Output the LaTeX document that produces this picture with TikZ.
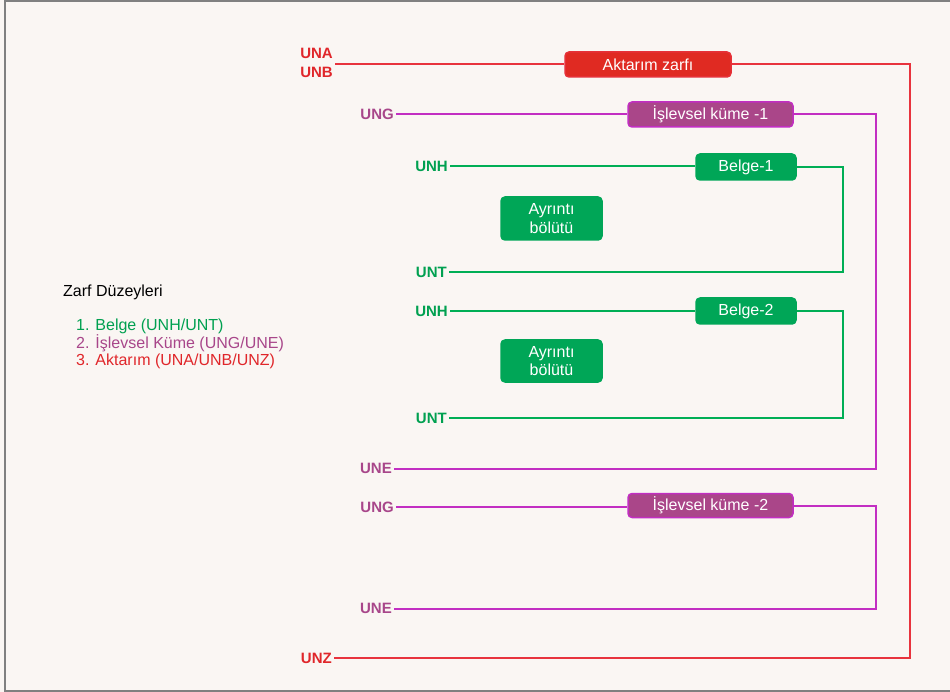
\documentclass[tikz,border=0pt]{standalone}
\usepackage{fontspec}
\setmainfont{Liberation Sans}
\usetikzlibrary{calc}

\definecolor{bg}{HTML}{FAF6F3}
\definecolor{frame}{HTML}{808080}
\definecolor{redline}{HTML}{E8333D}
\definecolor{redfill}{HTML}{E02A22}
\definecolor{redtext}{HTML}{E0262A}
\definecolor{purpline}{HTML}{C22EC2}
\definecolor{purpfill}{HTML}{AA4689}
\definecolor{purptext}{HTML}{A8468A}
\definecolor{greenline}{HTML}{00AE55}
\definecolor{greenfill}{HTML}{00A657}
\definecolor{greentext}{HTML}{00A050}

\tikzset{
  seg/.style={font=\fontsize{15}{19}\selectfont\bfseries, inner xsep=2pt, inner ysep=0pt, anchor=east, align=right},
  boxbase/.style={rounded corners=4pt, text=white, font=\fontsize{16}{18.5}\selectfont, inner sep=0pt, align=center, line width=1.5pt},
  redbox/.style={boxbase, fill=redfill, draw=redline!80!redfill},
  purpbox/.style={boxbase, fill=purpfill, draw=purpline},
  greenbox/.style={boxbase, fill=greenfill, draw=greenfill},
  redwire/.style={draw=redline, line width=2pt},
  purpwire/.style={draw=purpline, line width=2pt},
  greenwire/.style={draw=greenline, line width=2pt},
  legend/.style={font=\fontsize{16}{17.5}\selectfont, anchor=west, inner sep=0pt, align=left}
}

\begin{document}
\begin{tikzpicture}[x=1pt, y=-1pt]
  % canvas and frame
  \fill[bg] (0,0) rectangle (950,692);
  \useasboundingbox (0,0) rectangle (950,692);
  \draw[frame, line width=2pt] (950,1.5) -- (4.5,1.5) -- (4.5,690.5) -- (950,690.5);

  % vertical rails of the three envelope levels
  \coordinate (rrail) at (910,0);
  \coordinate (prail) at (876,0);
  \coordinate (grail) at (843,0);

  % interchange level (red)
  \node[seg, text=redtext] (unab) at (335,63) {UNA\\UNB};
  \node[redbox, minimum width=166pt, minimum height=25pt] (aktarim) at (648,64.5) {Aktarım zarfı};
  \node[seg, text=redtext] (unz) at (334,658) {UNZ};
  \draw[redwire] (unab.east |- aktarim.west) -- (aktarim.west);
  \draw[redwire] (aktarim.east) -- (aktarim.east -| rrail) |- (unz.east);

  % functional group 1 (purple)
  \node[seg, text=purptext] (ung1) at (396,114) {UNG};
  \node[purpbox, minimum width=165pt, minimum height=25pt] (isk1) at (710.5,114.5) {İşlevsel küme -1};
  \node[seg, text=purptext] (une1) at (394,468.5) {UNE};
  \draw[purpwire] (ung1.east) -- (isk1.west |- ung1.east);
  \draw[purpwire] (isk1.east) -- (isk1.east -| prail) |- (une1.east);

  % message 1 (green)
  \node[seg, text=greentext] (unh1) at (450,166.5) {UNH};
  \node[greenbox, minimum width=100pt, minimum height=26pt] (belge1) at (746,167) {Belge-1};
  \node[seg, text=greentext] (unt1) at (449,272) {UNT};
  \node[greenbox, minimum width=101pt, minimum height=43pt] (ayr1) at (551.5,218.5) {Ayrıntı\\bölütü};
  \draw[greenwire] (unh1.east) -- (belge1.west |- unh1.east);
  \draw[greenwire] (belge1.east) -- (belge1.east -| grail) |- (unt1.east);

  % message 2 (green)
  \node[seg, text=greentext] (unh2) at (450,311) {UNH};
  \node[greenbox, minimum width=100pt, minimum height=26pt] (belge2) at (746,311) {Belge-2};
  \node[seg, text=greentext] (unt2) at (449,418) {UNT};
  \node[greenbox, minimum width=101pt, minimum height=42pt] (ayr2) at (551.5,361) {Ayrıntı\\bölütü};
  \draw[greenwire] (unh2.east) -- (belge2.west |- unh2.east);
  \draw[greenwire] (belge2.east) -- (belge2.east -| grail) |- (unt2.east);

  % functional group 2 (purple)
  \node[seg, text=purptext] (ung2) at (396,507) {UNG};
  \node[purpbox, minimum width=165pt, minimum height=24pt] (isk2) at (710.5,505.5) {İşlevsel küme -2};
  \node[seg, text=purptext] (une2) at (394,608.5) {UNE};
  \draw[purpwire] (ung2.east) -- (isk2.west |- ung2.east);
  \draw[purpwire] (isk2.east) -- (isk2.east -| prail) |- (une2.east);

  % legend
  \node[legend] (lgtitle) at (63,292) {Zarf Düzeyleri};
  \node[legend, text=greentext] (lg1) at (76,326) {1. Belge (UNH/UNT)};
  \node[legend, text=purptext] (lg2) at (76,343.5) {2. İşlevsel Küme (UNG/UNE)};
  \node[legend, text=redtext] (lg3) at (76,361) {3. Aktarım (UNA/UNB/UNZ)};
\end{tikzpicture}
\end{document}
